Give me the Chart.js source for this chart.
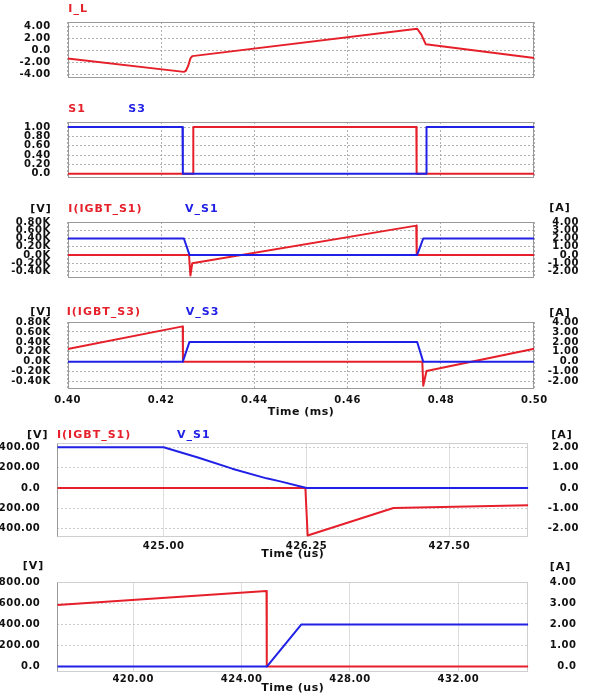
<!DOCTYPE html>
<html><head><meta charset="utf-8">
<script src="https://cdn.jsdelivr.net/npm/chart.js@4/dist/chart.umd.min.js"></script>
<style>
html,body{margin:0;padding:0;background:#fff;width:592px;height:695px;overflow:hidden;position:relative;}
.p{position:absolute;left:0;}
canvas{display:block;}
</style></head><body>
<div class="p" style="top:0px"><canvas id="c1" width="592" height="100"></canvas></div>
<div class="p" style="top:100px"><canvas id="c2" width="592" height="100"></canvas></div>
<div class="p" style="top:200px"><canvas id="c3" width="592" height="100"></canvas></div>
<div class="p" style="top:300px"><canvas id="c4" width="592" height="120"></canvas></div>
<div class="p" style="top:420px"><canvas id="c5" width="592" height="140"></canvas></div>
<div class="p" style="top:560px"><canvas id="c6" width="592" height="135"></canvas></div>
<script>
// ---------- DATA ----------
// Panel 1: I_L (time in ms, A)
const ilTime   = [0.400, 0.4249, 0.4253, 0.4258, 0.4263, 0.4267, 0.4749, 0.4758, 0.47675, 0.500];
const ilValues = [-1.37, -3.60, -3.45, -2.65, -1.35, -0.98, 3.57, 2.60, 0.98, -1.29];

// Panel 2: gate signals S1, S3
const s1Time   = [0.400, 0.42686, 0.42692, 0.47472, 0.47478, 0.500];
const s1Values = [0, 0, 1, 1, 0, 0];
const s3Time   = [0.400, 0.42460, 0.42468, 0.47684, 0.47690, 0.500];
const s3Values = [1, 1, 0, 0, 1, 1];

// Panel 3: I(IGBT_S1) [A], V_S1 [V]
const is1Time   = [0.400, 0.4260, 0.4263, 0.4267, 0.4747, 0.4748, 0.500];
const is1Values = [0, 0, -2.5, -1.0, 3.56, 0, 0];
const vs1Time   = [0.400, 0.4249, 0.4261, 0.4749, 0.4762, 0.500];
const vs1Values = [400, 400, 0, 0, 400, 400];

// Panel 4: I(IGBT_S3) [A], V_S3 [V]
const is3Time   = [0.400, 0.42465, 0.4247, 0.4760, 0.4762, 0.4769, 0.500];
const is3Values = [1.29, 3.56, 0, 0, -2.4, -0.92, 1.32];
const vs3Time   = [0.400, 0.42465, 0.4261, 0.4749, 0.4762, 0.500];
const vs3Values = [0, 0, 400, 400, 0, 0];

// Panel 5: zoom on S1 turn-off (time in us)
const vs1zTime   = [424.07, 425.0, 425.3, 425.6, 425.9, 426.02, 426.25, 428.19];
const vs1zValues = [400, 400, 300, 190, 95, 65, 0, 0];
const is1zTime   = [424.07, 426.24, 426.26, 427.01, 428.19];
const is1zValues = [0, 0, -2.33, -0.98, -0.85];

// Panel 6: zoom on S3 turn-off (time in us)
const is3zTime   = [417.2, 424.92, 424.93, 434.58];
const is3zValues = [2.93, 3.6, 0, 0];
const vs3zTime   = [417.2, 424.94, 426.2, 434.58];
const vs3zValues = [0, 0, 400, 400];

// Tick values / labels
const msTicks  = [0.40, 0.42, 0.44, 0.46, 0.48, 0.50];
const msLabels = ['0.40', '0.42', '0.44', '0.46', '0.48', '0.50'];
const ilTicks  = [-4, -2, 0, 2, 4];
const ilLabels = ['-4.00', '-2.00', '0.0', '2.00', '4.00'];
const sTicks   = [0, 0.2, 0.4, 0.6, 0.8, 1.0];
const sLabels  = ['0.0', '0.20', '0.40', '0.60', '0.80', '1.00'];
const kvTicks  = [-400, -200, 0, 200, 400, 600, 800];
const kvLabels = ['-0.40K', '-0.20K', '0.0K', '0.20K', '0.40K', '0.60K', '0.80K'];
const aTicks   = [-2, -1, 0, 1, 2, 3, 4];
const aLabels  = ['-2.00', '-1.00', '0.0', '1.00', '2.00', '3.00', '4.00'];
const us5Ticks  = [425.00, 426.25, 427.50];
const us5Labels = ['425.00', '426.25', '427.50'];
const v5Ticks   = [-400, -200, 0, 200, 400];
const v5Labels  = ['-400.00', '-200.00', '0.0', '200.00', '400.00'];
const a5Ticks   = [-2, -1, 0, 1, 2];
const a5Labels  = ['-2.00', '-1.00', '0.0', '1.00', '2.00'];
const us6Ticks  = [420, 424, 428, 432];
const us6Labels = ['420.00', '424.00', '428.00', '432.00'];
const v6Ticks   = [0, 200, 400, 600, 800];
const v6Labels  = ['0.0', '200.00', '400.00', '600.00', '800.00'];
const a6Ticks   = [0, 1, 2, 3, 4];
const a6Labels  = ['0.0', '1.00', '2.00', '3.00', '4.00'];

// ---------- STYLE ----------
const RED = '#e6202a', BLUE = '#2020e6', INK = '#111';
Chart.defaults.font.family = "'DejaVu Sans', sans-serif";
Chart.defaults.font.weight = 'bold';
Chart.defaults.font.size = 10;
Chart.defaults.color = INK;
Chart.defaults.animation = false;

const pts = (xs, ys) => xs.map((x, i) => ({x: x, y: ys[i]}));
const series = (xs, ys, color, axis) => ({
  data: pts(xs, ys), borderColor: color, backgroundColor: color, borderWidth: 2,
  pointRadius: 0, tension: 0, fill: false, yAxisID: axis, borderJoinStyle: 'round'
});

function decor(labels, frame) {
  return {
    id: 'decor',
    beforeLayout(chart) { chart.ctx.letterSpacing = '0.5px'; },
    beforeDraw(chart) { chart.ctx.letterSpacing = '0.5px'; },
    beforeDatasetsDraw(chart) {
      const a = chart.chartArea, ctx = chart.ctx;
      ctx.save();
      ctx.lineWidth = 1;
      ctx.strokeStyle = frame.color;
      const l = Math.round(a.left) + 0.5, t = Math.round(a.top) + 0.5;
      const r = Math.round(a.right) - 0.5, b = Math.round(a.bottom) - 0.5;
      ctx.strokeRect(l, t, r - l, b - t);
      if (frame.left) {
        ctx.strokeStyle = frame.left;
        ctx.beginPath(); ctx.moveTo(l, t); ctx.lineTo(l, b); ctx.stroke();
      }
      ctx.restore();
    },
    afterDraw(chart) {
      const ctx = chart.ctx;
      ctx.save();
      ctx.letterSpacing = '1px';
      ctx.font = "bold 11px 'DejaVu Sans', sans-serif";
      ctx.textBaseline = 'middle';
      labels.forEach(lb => {
        ctx.fillStyle = lb.c;
        ctx.textAlign = lb.a || 'left';
        ctx.fillText(lb.t, lb.x, lb.y);
      });
      ctx.restore();
    }
  };
}

function build(id, p) {
  const scales = {
    x: {
      type: 'linear', min: p.xMin, max: p.xMax,
      afterBuildTicks: s => { s.ticks = p.xTicks.map(v => ({value: v})); },
      afterFit: s => { s.height = p.xAxisH; },
      grid: { color: p.vGrid, drawTicks: false, lineWidth: 1 },
      border: { display: false, dash: p.vDash },
      ticks: { display: !!p.xLabels, autoSkip: false, maxRotation: 0, padding: p.xTickPad || 0,
               font: {size: 10, lineHeight: 1},
               callback: (v, i) => p.xLabels ? p.xLabels[i] : '' },
      title: p.xTitle ? { display: true, text: p.xTitle, color: INK,
                          font: {size: 11, weight: 'bold', lineHeight: 1},
                          padding: {top: 0, bottom: p.xTitlePad} } : {display: false}
    },
    y: {
      type: 'linear', position: 'left', min: p.yMin, max: p.yMax,
      afterBuildTicks: s => { s.ticks = p.yTicks.map(v => ({value: v})); },
      afterFit: s => { s.width = p.leftW; },
      grid: { color: p.hGrid, drawTicks: false, lineWidth: 1 },
      border: { display: false, dash: [2, 2] },
      ticks: { autoSkip: false, padding: 17, font: {size: 10, lineHeight: 1},
               callback: (v, i) => p.yLabels[i] }
    }
  };
  if (p.y1Ticks) {
    scales.y1 = {
      type: 'linear', position: 'right', min: p.y1Min, max: p.y1Max,
      afterBuildTicks: s => { s.ticks = p.y1Ticks.map(v => ({value: v})); },
      afterFit: s => { s.width = p.rightW; },
      grid: { display: false, drawOnChartArea: false, drawTicks: false },
      border: { display: false },
      ticks: { autoSkip: false, padding: 0, crossAlign: 'far', font: {size: 10, lineHeight: 1},
               callback: (v, i) => p.y1Labels[i] }
    };
  }
  return new Chart(document.getElementById(id), {
    type: 'line',
    data: { datasets: p.datasets },
    options: {
      responsive: false, animation: false, normalized: true,
      layout: { padding: p.pad },
      plugins: { legend: {display: false}, tooltip: {enabled: false} },
      scales: scales
    },
    plugins: [decor(p.labels, p.frame)]
  });
}

const topGrid = 'rgba(150,150,150,0.75)';
const topFrame = {color: '#9a9a9a'};
const lowFrame = {color: '#cfcfcf', left: '#9a9a9a'};

// Panel 1
build('c1', {
  xMin: 0.40, xMax: 0.50, xTicks: msTicks, xLabels: null, xAxisH: 0,
  vGrid: topGrid, vDash: [2, 2], hGrid: topGrid,
  yMin: -4.62, yMax: 4.7, yTicks: ilTicks, yLabels: ilLabels, leftW: 67.7,
  pad: {top: 20.7, bottom: 8.3, left: 0, right: 57.7},
  datasets: [series(ilTime, ilValues, RED, 'y')],
  labels: [{t: 'I_L', c: RED, x: 68.3, y: 9.3}],
  frame: topFrame
});

// Panel 2
build('c2', {
  xMin: 0.40, xMax: 0.50, xTicks: msTicks, xLabels: null, xAxisH: 0,
  vGrid: topGrid, vDash: [2, 2], hGrid: topGrid,
  yMin: -0.093, yMax: 1.11, yTicks: sTicks, yLabels: sLabels, leftW: 67.7,
  pad: {top: 20.5, bottom: 6.7, left: 0, right: 57.7},
  datasets: [series(s3Time, s3Values, BLUE, 'y'), series(s1Time, s1Values, RED, 'y')],
  labels: [{t: 'S1', c: RED, x: 68.3, y: 9.3}, {t: 'S3', c: BLUE, x: 128.3, y: 9.3}],
  frame: topFrame
});

// Panel 3
build('c3', {
  xMin: 0.40, xMax: 0.50, xTicks: msTicks, xLabels: null, xAxisH: 0,
  vGrid: topGrid, vDash: [2, 2], hGrid: topGrid,
  yMin: -560, yMax: 800, yTicks: kvTicks, yLabels: kvLabels, leftW: 67.7,
  y1Min: -2.8, y1Max: 4.0, y1Ticks: aTicks, y1Labels: aLabels, rightW: 44.7,
  pad: {top: 20.7, bottom: 6, left: 0, right: 13},
  datasets: [series(vs1Time, vs1Values, BLUE, 'y'), series(is1Time, is1Values, RED, 'y1')],
  labels: [{t: '[V]', c: INK, x: 41, y: 9.3, a: 'center'},
           {t: 'I(IGBT_S1)', c: RED, x: 68.3, y: 9.3},
           {t: 'V_S1', c: BLUE, x: 185, y: 9.3},
           {t: '[A]', c: INK, x: 560, y: 8.3, a: 'center'}],
  frame: topFrame
});

// Panel 4
build('c4', {
  xMin: 0.40, xMax: 0.50, xTicks: msTicks, xLabels: msLabels, xAxisH: 31,
  xTickPad: 6.5, xTitle: 'Time (ms)', xTitlePad: 2.8,
  vGrid: topGrid, vDash: [2, 2], hGrid: topGrid,
  yMin: -545, yMax: 800, yTicks: kvTicks, yLabels: kvLabels, leftW: 67.7,
  y1Min: -2.725, y1Max: 4.0, y1Ticks: aTicks, y1Labels: aLabels, rightW: 44.7,
  pad: {top: 22, bottom: 0, left: 0, right: 13},
  datasets: [series(vs3Time, vs3Values, BLUE, 'y'), series(is3Time, is3Values, RED, 'y1')],
  labels: [{t: '[V]', c: INK, x: 41, y: 12.3, a: 'center'},
           {t: 'I(IGBT_S3)', c: RED, x: 66.7, y: 12.3},
           {t: 'V_S3', c: BLUE, x: 185.7, y: 12.3},
           {t: '[A]', c: INK, x: 560, y: 12.7, a: 'center'}],
  frame: topFrame
});

// Panel 5
build('c5', {
  xMin: 424.07, xMax: 428.19, xTicks: us5Ticks, xLabels: us5Labels, xAxisH: 22.7,
  xTickPad: 4, xTitle: 'Time (us)', xTitlePad: 0.2,
  vGrid: '#dedede', vDash: [], hGrid: 'rgba(170,170,170,0.6)',
  yMin: -484, yMax: 445, yTicks: v5Ticks, yLabels: v5Labels, leftW: 57.3,
  y1Min: -2.42, y1Max: 2.225, y1Ticks: a5Ticks, y1Labels: a5Labels, rightW: 50.7,
  pad: {top: 22.7, bottom: 0, left: 0, right: 13},
  datasets: [series(vs1zTime, vs1zValues, BLUE, 'y'), series(is1zTime, is1zValues, RED, 'y1')],
  labels: [{t: '[V]', c: INK, x: 37.7, y: 14.7, a: 'center'},
           {t: 'I(IGBT_S1)', c: RED, x: 57, y: 14.7},
           {t: 'V_S1', c: BLUE, x: 177, y: 14.7},
           {t: '[A]', c: INK, x: 562, y: 14.7, a: 'center'}],
  frame: lowFrame
});

// Panel 6
build('c6', {
  xMin: 417.2, xMax: 434.58, xTicks: us6Ticks, xLabels: us6Labels, xAxisH: 23.3,
  xTickPad: 2.6, xTitle: 'Time (us)', xTitlePad: 1.8,
  vGrid: '#dedede', vDash: [], hGrid: 'rgba(170,170,170,0.6)',
  yMin: -50, yMax: 806, yTicks: v6Ticks, yLabels: v6Labels, leftW: 57.3,
  y1Min: -0.25, y1Max: 4.03, y1Ticks: a6Ticks, y1Labels: a6Labels, rightW: 48.2,
  pad: {top: 15, bottom: 0, left: 0, right: 15.5},
  datasets: [series(vs3zTime, vs3zValues, BLUE, 'y'), series(is3zTime, is3zValues, RED, 'y1')],
  labels: [{t: '[V]', c: INK, x: 33.5, y: 6, a: 'center'},
           {t: '[A]', c: INK, x: 560.5, y: 7, a: 'center'}],
  frame: lowFrame
});
</script>
</body></html>
